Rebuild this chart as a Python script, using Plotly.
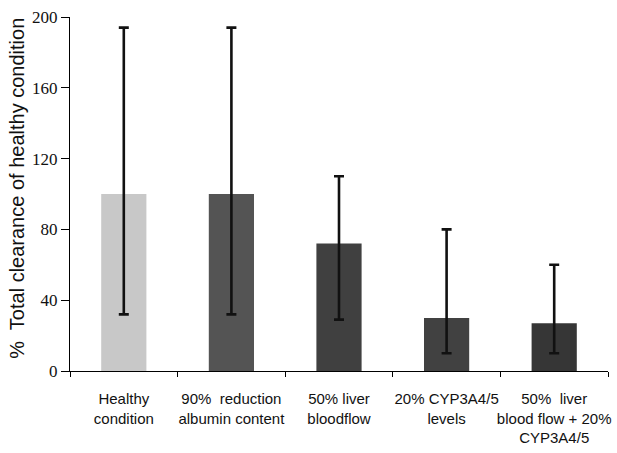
import plotly.graph_objects as go

# Total clearance (% of healthy condition) per simulated scenario
categories = [
    "Healthy<br>condition",
    "90%  reduction<br>albumin content",
    "50% liver<br>bloodflow",
    "20% CYP3A4/5<br>levels",
    "50%  liver<br>blood flow + 20%<br>CYP3A4/5",
]
clearance = [100, 100, 72, 30, 27]
upper_bound = [194, 194, 110, 80, 60]
lower_bound = [32, 32, 29, 10, 10]
bar_colors = ["#c8c8c8", "#545454", "#404040", "#414141", "#363636"]
y_ticks = [0, 40, 80, 120, 160, 200]
y_title = "%  Total clearance of healthy condition"

err_plus = [u - v for u, v in zip(upper_bound, clearance)]
err_minus = [v - l for v, l in zip(clearance, lower_bound)]

fig = go.Figure(
    go.Bar(
        x=categories,
        y=clearance,
        width=0.42,
        marker=dict(color=bar_colors, line=dict(width=0)),
        error_y=dict(
            type="data",
            symmetric=False,
            array=err_plus,
            arrayminus=err_minus,
            color="#111111",
            thickness=2.6,
            width=5,
        ),
    )
)

fig.update_layout(
    width=617,
    height=453,
    margin=dict(l=70, r=9, t=17, b=82),
    paper_bgcolor="white",
    plot_bgcolor="white",
    showlegend=False,
    font=dict(family="Liberation Sans, Arial, sans-serif", color="black"),
)

fig.update_xaxes(
    automargin=False,
    showline=True,
    linecolor="black",
    linewidth=1,
    ticks="outside",
    tickson="boundaries",
    ticklen=5,
    tickcolor="black",
    tickangle=0,
    tickfont=dict(family="Liberation Sans, Arial", size=15, color="#111111"),
    ticklabelstandoff=14,
    showgrid=False,
)

fig.update_yaxes(
    automargin=False,
    range=[0, 200],
    tickvals=y_ticks,
    showline=True,
    linecolor="black",
    linewidth=1,
    ticks="outside",
    ticklen=8,
    tickcolor="black",
    tickfont=dict(family="Liberation Serif, Times New Roman, serif", size=17, color="#111111"),
    showgrid=False,
    zeroline=False,
)

# Rotated axis title placed as an annotation to the left of the tick labels
fig.add_annotation(
    text=y_title,
    xref="paper",
    yref="paper",
    x=-0.0985,
    y=0.515,
    xanchor="center",
    yanchor="middle",
    textangle=-90,
    showarrow=False,
    font=dict(family="Liberation Sans, Arial, sans-serif", size=20, color="#111111"),
)

fig.write_html("out.html")
